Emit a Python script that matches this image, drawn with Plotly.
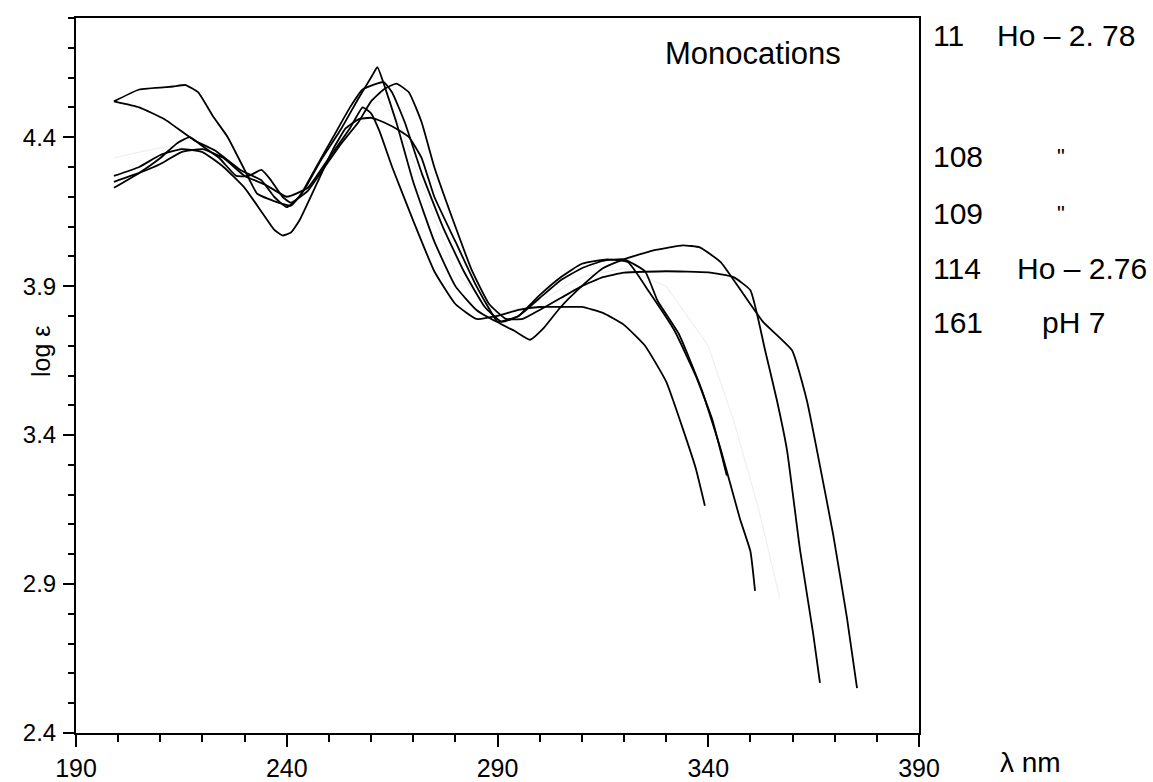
import plotly.graph_objects as go

# Absorption spectra of the monocations (wavelength in nm, log epsilon)
wl_11 = [199, 205, 213, 216, 219, 222.5, 226, 230, 233, 238, 241, 244, 248, 253, 257, 260, 261.5, 263, 266, 270,
         275, 280, 285, 290, 295, 300, 305, 310, 315, 320, 325, 328, 333, 338.5, 343, 347.5, 350, 351.1]
le_11 = [4.52, 4.56, 4.57, 4.575, 4.55, 4.47, 4.40, 4.29, 4.21, 4.18, 4.17, 4.22, 4.32, 4.43, 4.53, 4.60, 4.635, 4.58, 4.45, 4.25,
         4.05, 3.90, 3.82, 3.78, 3.80, 3.86, 3.92, 3.96, 3.985, 3.99, 3.95, 3.85, 3.74, 3.55, 3.35, 3.12, 3.01, 2.877]

wl_108 = [199, 205, 211, 218, 223, 229, 234, 237, 240, 243, 247, 251, 255, 258, 263, 265, 268, 272, 277, 282,
          287, 291, 295, 300, 305, 310, 316, 321, 326, 332, 337, 341, 344.4]
le_108 = [4.52, 4.50, 4.46, 4.39, 4.355, 4.29, 4.255, 4.20, 4.165, 4.20, 4.30, 4.40, 4.50, 4.56, 4.585, 4.55, 4.45, 4.28, 4.10, 3.95,
          3.83, 3.78, 3.80, 3.87, 3.93, 3.975, 3.99, 3.98, 3.88, 3.75, 3.60, 3.45, 3.264]

wl_109 = [199, 205, 210, 214, 217, 220, 224, 228, 231, 234, 236, 239, 241, 245, 249, 253, 257, 260, 263, 266, 269,
          272, 275, 280, 284, 288, 292, 296, 300, 305, 310, 315, 320, 330, 340, 346, 350, 353.5, 356.3, 358.7,
          361.8, 364.9, 366.5]
le_109 = [4.23, 4.28, 4.33, 4.38, 4.40, 4.37, 4.33, 4.27, 4.27, 4.29, 4.26, 4.20, 4.18, 4.22, 4.30, 4.38, 4.45, 4.52, 4.56, 4.58, 4.55,
          4.45, 4.30, 4.10, 3.95, 3.84, 3.79, 3.79, 3.82, 3.86, 3.90, 3.93, 3.945, 3.95, 3.946, 3.93, 3.886, 3.684, 3.516, 3.348,
          3.012, 2.733, 2.568]

wl_114 = [199, 205, 210, 215, 220, 225, 230, 234, 237, 239, 241, 243, 247, 251, 254, 257, 260, 263, 267, 269, 272,
          275, 280, 285, 290, 294, 297.7, 301, 305, 310, 315, 320, 327, 334, 338, 343, 348, 353, 359.9, 363.4,
          365.8, 369.6, 372.9, 375.3]
le_114 = [4.27, 4.30, 4.34, 4.36, 4.35, 4.30, 4.23, 4.15, 4.09, 4.07, 4.08, 4.12, 4.24, 4.36, 4.43, 4.46, 4.465, 4.45, 4.42, 4.40, 4.33,
          4.20, 4.05, 3.90, 3.78, 3.75, 3.72, 3.76, 3.83, 3.90, 3.96, 3.99, 4.02, 4.037, 4.03, 3.98, 3.88, 3.78, 3.684, 3.516,
          3.348, 3.069, 2.787, 2.551]

wl_161 = [199, 205, 210, 215, 220, 225, 230, 235, 240, 245, 250, 255, 258, 260, 262, 265, 270, 275, 280, 285,
          290, 295, 300, 305, 310, 315, 320, 325, 330, 334, 337, 339.2]
le_161 = [4.25, 4.28, 4.31, 4.35, 4.36, 4.33, 4.27, 4.24, 4.20, 4.23, 4.33, 4.43, 4.50, 4.48, 4.42, 4.30, 4.12, 3.95, 3.84, 3.79,
          3.80, 3.82, 3.83, 3.83, 3.83, 3.81, 3.77, 3.70, 3.58, 3.42, 3.29, 3.163]

# faint trace
wl_faint = [199, 205, 212, 218, 224, 230, 236, 240, 246, 252, 258, 262, 266, 272, 280, 290, 300, 310, 320, 330, 340, 346, 352, 357]
le_faint = [4.33, 4.35, 4.37, 4.36, 4.32, 4.26, 4.22, 4.19, 4.25, 4.38, 4.50, 4.52, 4.47, 4.25, 3.95, 3.80, 3.85, 3.93, 3.96, 3.90, 3.70, 3.45, 3.15, 2.85]

x_ticks = [190, 240, 290, 340, 390]
y_ticks = [2.4, 2.9, 3.4, 3.9, 4.4]

legend_nums = ["11", "108", "109", "114", "161"]
legend_labels = ["Ho \u2013 2. 78", "\"", "\"", "Ho \u2013 2.76", "pH 7"]

W, H = 1153, 782
L, R, T, B = 76, 919, 18, 733

FONT = "Liberation Sans, Arial, sans-serif"

fig = go.Figure()
fig.add_trace(go.Scatter(x=wl_faint, y=le_faint, mode="lines",
                         line=dict(color="#efefef", width=1.2), hoverinfo="skip"))
for wl, le in [(wl_11, le_11), (wl_108, le_108), (wl_109, le_109), (wl_114, le_114), (wl_161, le_161)]:
    fig.add_trace(go.Scatter(x=wl, y=le, mode="lines",
                             line=dict(color="black", width=1.8, shape="spline", smoothing=0.4)))


def px(xp):
    return (xp - L) / (R - L)


def py(yp):
    return (B - yp) / (B - T)


annotations = [
    dict(text="Monocations", x=px(753), y=py(54), font=dict(size=31)),
    dict(text="\u03bb nm", x=px(998), y=py(762), xanchor="left", font=dict(size=28)),
    dict(text="log \u03b5", x=px(41), y=py(352), textangle=-90, font=dict(size=25)),
]
row_y = [36, 157, 214, 268, 322]
label_x = [995, 1055, 1055, 1015, 1040]
label_size = [30, 22, 22, 30, 30]
for num, lab, yy, lx, ls in zip(legend_nums, legend_labels, row_y, label_x, label_size):
    annotations.append(dict(text=num, x=px(931), y=py(yy), xanchor="left", font=dict(size=30)))
    annotations.append(dict(text=lab, x=px(lx), y=py(yy), xanchor="left", font=dict(size=ls)))

for a in annotations:
    a.update(xref="paper", yref="paper", showarrow=False, yanchor="middle")
    a.setdefault("xanchor", "center")
    a["font"].update(family=FONT, color="black")

fig.update_layout(
    width=W, height=H,
    margin=dict(l=L, r=W - R, t=T, b=H - B, pad=0, autoexpand=False),
    paper_bgcolor="white", plot_bgcolor="white",
    showlegend=False,
    font=dict(family=FONT, color="black", size=24),
    annotations=annotations,
    xaxis=dict(range=[190, 390], tickvals=x_ticks, ticks="outside", ticklen=12, tickwidth=2,
               tickcolor="black", showline=True, linewidth=2, linecolor="black", mirror=True,
               showgrid=False, zeroline=False, tickfont=dict(size=25), ticklabelstandoff=0,
               automargin=False,
               minor=dict(dtick=10, tick0=190, ticks="outside", ticklen=7, tickwidth=2, tickcolor="black", showgrid=False)),
    yaxis=dict(range=[2.4, 4.8], tickvals=y_ticks, ticktext=[f"{v:.1f}" for v in y_ticks],
               ticks="outside", ticklen=11, tickwidth=2,
               tickcolor="black", showline=True, linewidth=2, linecolor="black", mirror=True,
               showgrid=False, zeroline=False, tickfont=dict(size=24), ticklabelstandoff=2,
               automargin=False,
               minor=dict(dtick=0.1, tick0=2.4, ticks="outside", ticklen=6, tickwidth=2, tickcolor="black", showgrid=False)),
)

fig.write_html("out.html")
